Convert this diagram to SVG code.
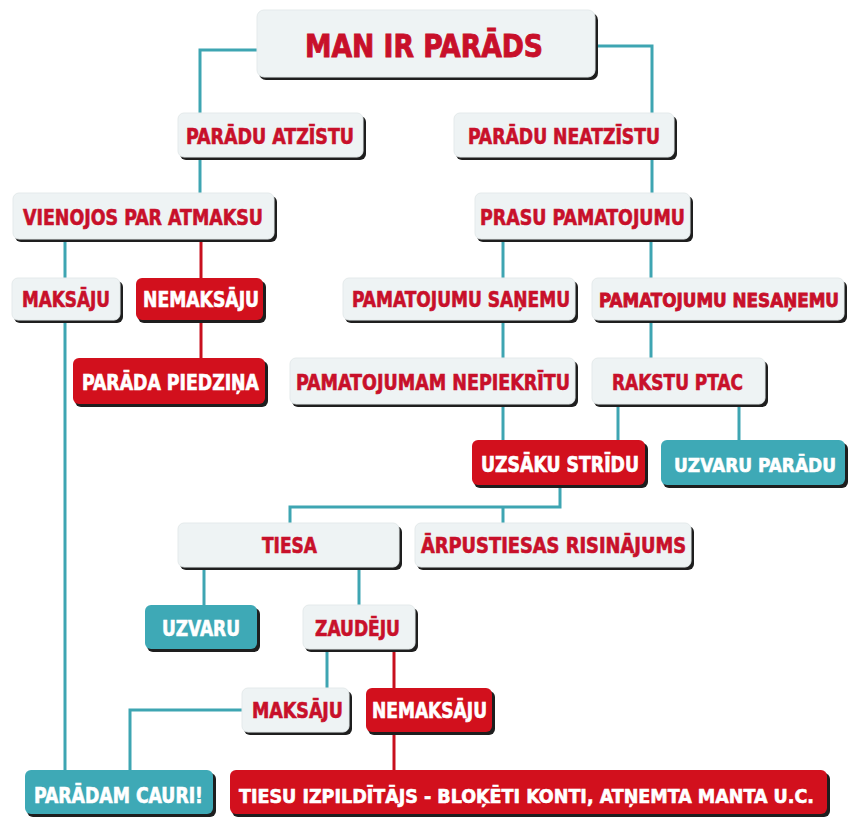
<svg xmlns="http://www.w3.org/2000/svg" width="849" height="819" viewBox="0 0 849 819">
<style>
.sh{fill:#1e1e1e}
.lt{fill:#eef3f4;stroke:#e4eaeb;stroke-width:1}
.rd{fill:#d2101d}
.tl{fill:#3ea9b6}
text{font-family:"DejaVu Sans Condensed","DejaVu Sans",sans-serif;font-weight:bold;font-size:21px;stroke-width:0.6px}
.tr{fill:#c8102a;stroke:#c8102a}
.tw{fill:#ffffff;stroke:#ffffff}
.sm{font-size:20px}
.xs{font-size:19px;stroke-width:0.8px}
.ct{fill:none;stroke:#3ea5b2;stroke-width:3}
.cr{fill:none;stroke:#c8101e;stroke-width:3}
</style>
<rect width="849" height="819" fill="#ffffff"/>
<g id="connectors">
<path class="ct" d="M257,50 H200 V113"/>
<path class="ct" d="M598,46 H652 V113"/>
<path class="ct" d="M200,160 V193"/>
<path class="ct" d="M652,160 V193"/>
<path class="ct" d="M65,242 V770"/>
<path class="ct" d="M503,242 V278"/>
<path class="ct" d="M651,242 V278"/>
<path class="ct" d="M503,323 V358"/>
<path class="ct" d="M651,323 V358"/>
<path class="ct" d="M503,407 V440"/>
<path class="ct" d="M618,407 V440"/>
<path class="ct" d="M739,407 V440"/>
<path class="ct" d="M560,488 V507 H290 V523"/>
<path class="ct" d="M503,507 V523"/>
<path class="ct" d="M204,570 V605"/>
<path class="ct" d="M359,570 V605"/>
<path class="ct" d="M327,652 V688"/>
<path class="ct" d="M242,710 H130 V770"/>
<path class="cr" d="M201,242 V278"/>
<path class="cr" d="M201,323 V358"/>
<path class="cr" d="M394,652 V688"/>
<path class="cr" d="M394,735 V770"/>
</g>
<g id="n-man"><rect class="sh" x="259" y="13" width="339" height="67" rx="7"/><rect class="lt" x="257" y="10" width="338" height="67" rx="7"/><text class="tr" x="305" y="57" style="font-size:32px;stroke-width:0.9px" textLength="238" lengthAdjust="spacingAndGlyphs">MAN IR PARĀDS</text></g>
<g id="n-atzistu"><rect class="sh" x="180" y="116" width="186" height="44" rx="6"/><rect class="lt" x="178" y="113" width="185" height="44" rx="6"/><text class="tr" x="186" y="144" textLength="168" lengthAdjust="spacingAndGlyphs">PARĀDU ATZĪSTU</text></g>
<g id="n-neatzistu"><rect class="sh" x="456" y="116" width="221" height="44" rx="6"/><rect class="lt" x="454" y="113" width="220" height="44" rx="6"/><text class="tr" x="468" y="144" textLength="192" lengthAdjust="spacingAndGlyphs">PARĀDU NEATZĪSTU</text></g>
<g id="n-vienojos"><rect class="sh" x="15" y="196" width="262" height="46" rx="6"/><rect class="lt" x="13" y="193" width="261" height="46" rx="6"/><text class="tr" x="23" y="225" textLength="240" lengthAdjust="spacingAndGlyphs">VIENOJOS PAR ATMAKSU</text></g>
<g id="n-prasu"><rect class="sh" x="477" y="196" width="216" height="46" rx="6"/><rect class="lt" x="475" y="193" width="215" height="46" rx="6"/><text class="tr" x="480" y="225" textLength="205" lengthAdjust="spacingAndGlyphs">PRASU PAMATOJUMU</text></g>
<g id="n-maksaju1"><rect class="sh" x="14" y="281" width="109" height="42" rx="6"/><rect class="lt" x="12" y="278" width="108" height="42" rx="6"/><text class="tr" x="22" y="307" textLength="88" lengthAdjust="spacingAndGlyphs">MAKSĀJU</text></g>
<g id="n-nemaksaju1"><rect class="sh" x="138" y="281" width="128" height="42" rx="6"/><rect class="rd" x="136" y="278" width="127" height="42" rx="6"/><text class="tw" x="143" y="307" textLength="116" lengthAdjust="spacingAndGlyphs">NEMAKSĀJU</text></g>
<g id="n-sanemu"><rect class="sh" x="345" y="281" width="233" height="42" rx="6"/><rect class="lt" x="343" y="278" width="232" height="42" rx="6"/><text class="tr" x="352" y="307" textLength="218" lengthAdjust="spacingAndGlyphs">PAMATOJUMU SAŅEMU</text></g>
<g id="n-nesanemu"><rect class="sh" x="594" y="281" width="253" height="42" rx="6"/><rect class="lt" x="592" y="278" width="252" height="42" rx="6"/><text class="tr xs" x="599" y="307" textLength="240" lengthAdjust="spacingAndGlyphs">PAMATOJUMU NESAŅEMU</text></g>
<g id="n-piedzina"><rect class="sh" x="75" y="361" width="193" height="46" rx="6"/><rect class="rd" x="73" y="358" width="192" height="46" rx="6"/><text class="tw" x="82" y="390" textLength="177" lengthAdjust="spacingAndGlyphs">PARĀDA PIEDZIŅA</text></g>
<g id="n-nepiekritu"><rect class="sh" x="292" y="361" width="286" height="46" rx="6"/><rect class="lt" x="290" y="358" width="285" height="46" rx="6"/><text class="tr" x="296" y="390" textLength="274" lengthAdjust="spacingAndGlyphs">PAMATOJUMAM NEPIEKRĪTU</text></g>
<g id="n-ptac"><rect class="sh" x="594" y="361" width="174" height="46" rx="6"/><rect class="lt" x="592" y="358" width="173" height="46" rx="6"/><text class="tr" x="612" y="390" textLength="131" lengthAdjust="spacingAndGlyphs">RAKSTU PTAC</text></g>
<g id="n-stridu"><rect class="sh" x="474" y="443" width="174" height="45" rx="6"/><rect class="rd" x="472" y="440" width="173" height="45" rx="6"/><text class="tw" x="481" y="472" textLength="158" lengthAdjust="spacingAndGlyphs">UZSĀKU STRĪDU</text></g>
<g id="n-uzvaru-paradu"><rect class="sh" x="663" y="443" width="185" height="45" rx="6"/><rect class="tl" x="661" y="440" width="184" height="45" rx="6"/><text class="tw sm" x="674" y="472" textLength="162" lengthAdjust="spacingAndGlyphs">UZVARU PARĀDU</text></g>
<g id="n-tiesa"><rect class="sh" x="180" y="526" width="222" height="44" rx="6"/><rect class="lt" x="178" y="523" width="221" height="44" rx="6"/><text class="tr" x="262" y="553" textLength="55" lengthAdjust="spacingAndGlyphs">TIESA</text></g>
<g id="n-arpustiesas"><rect class="sh" x="417" y="526" width="277" height="44" rx="6"/><rect class="lt" x="415" y="523" width="276" height="44" rx="6"/><text class="tr" x="421" y="553" textLength="265" lengthAdjust="spacingAndGlyphs">ĀRPUSTIESAS RISINĀJUMS</text></g>
<g id="n-uzvaru"><rect class="sh" x="147" y="608" width="113" height="44" rx="6"/><rect class="tl" x="145" y="605" width="112" height="44" rx="6"/><text class="tw" x="162" y="636" textLength="78" lengthAdjust="spacingAndGlyphs">UZVARU</text></g>
<g id="n-zaudeju"><rect class="sh" x="305" y="608" width="113" height="44" rx="6"/><rect class="lt" x="303" y="605" width="112" height="44" rx="6"/><text class="tr" x="315" y="636" textLength="85" lengthAdjust="spacingAndGlyphs">ZAUDĒJU</text></g>
<g id="n-maksaju2"><rect class="sh" x="244" y="691" width="108" height="44" rx="6"/><rect class="lt" x="242" y="688" width="107" height="44" rx="6"/><text class="tr" x="252" y="718" textLength="91" lengthAdjust="spacingAndGlyphs">MAKSĀJU</text></g>
<g id="n-nemaksaju2"><rect class="sh" x="368" y="691" width="127" height="44" rx="6"/><rect class="rd" x="366" y="688" width="126" height="44" rx="6"/><text class="tw" x="372" y="718" textLength="115" lengthAdjust="spacingAndGlyphs">NEMAKSĀJU</text></g>
<g id="n-cauri"><rect class="sh" x="27" y="773" width="189" height="44" rx="6"/><rect class="tl" x="25" y="770" width="188" height="44" rx="6"/><text class="tw" x="34" y="803" textLength="169" lengthAdjust="spacingAndGlyphs">PARĀDAM CAURI!</text></g>
<g id="n-izpilditajs"><rect class="sh" x="232" y="773" width="598" height="44" rx="6"/><rect class="rd" x="230" y="770" width="597" height="44" rx="6"/><text class="tw sm" x="239" y="803" textLength="575" lengthAdjust="spacingAndGlyphs">TIESU IZPILDĪTĀJS - BLOĶĒTI KONTI, ATŅEMTA MANTA U.C.</text></g>
</svg>
